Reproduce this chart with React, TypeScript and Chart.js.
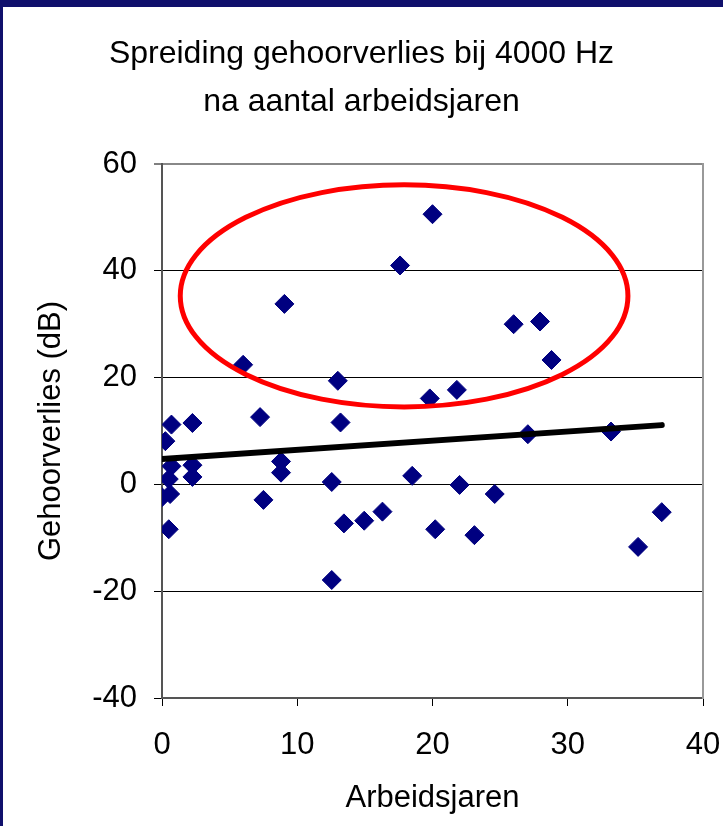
import React, { useEffect, useRef } from "react";
import { Chart, registerables } from "chart.js";

Chart.register(...registerables);

const titleLines = ["Spreiding gehoorverlies bij 4000 Hz", "na aantal arbeidsjaren"];
const xAxisTitle = "Arbeidsjaren";
const yAxisTitle = "Gehoorverlies (dB)";

// x: working years, y: hearing loss (dB) at 4000 Hz
const workYears = [
  0.0, 0.6, 0.5, 0.25, 0.7, 0.5, 0.7, 2.25, 2.25, 2.25,
  6.0, 7.25, 7.5, 9.05, 8.8, 8.8, 12.55, 12.55, 13.0, 13.2,
  13.45, 14.95, 16.3, 17.6, 18.5, 20.0, 19.8, 20.2, 21.8, 22.0,
  23.1, 24.6, 26.0, 27.05, 27.95, 28.8, 33.2, 35.2, 36.95,
];
const hearingLoss = [
  -2.4, -1.8, -8.4, 8.1, 11.2, 1.0, 3.4, 11.5, 3.6, 1.4,
  22.4, 12.6, -2.9, 33.8, 4.3, 2.2, 0.45, -17.9, 19.4, 11.6,
  -7.3, -6.8, -5.1, 41.0, 1.6, 50.6, 16.1, -8.4, 17.7, -0.1,
  -9.5, -1.8, 30.0, 9.4, 30.5, 23.3, 9.9, -11.7, -5.2,
];

// linear trend line end points
const trendYears = [0, 36.95];
const trendLoss = [4.75, 11.1];

// highlight ellipse (data units): centre and radii
const ellipseCenter = [17.9, 35.3];
const ellipseRadii = [16.55, 20.8];

const xMin = 0;
const xMax = 40;
const xStep = 10;
const yMin = -40;
const yMax = 60;
const yStep = 20;

const FONT = "'Liberation Sans', Arial, Helvetica, sans-serif";

const framePlugin = {
  id: "frame",
  beforeDraw(chart: any) {
    const { ctx, width, height } = chart;
    ctx.save();
    ctx.fillStyle = "#ffffff";
    ctx.fillRect(0, 0, width, height);
    ctx.fillStyle = "#10106c";
    ctx.fillRect(0, 0, width, 7);
    ctx.fillRect(0, 0, 3, height);
    ctx.restore();
  },
};

const ellipsePlugin = {
  id: "highlightEllipse",
  afterDatasetsDraw(chart: any) {
    const { ctx, scales } = chart;
    const xs = scales.x;
    const ys = scales.y;
    const cx = xs.getPixelForValue(ellipseCenter[0]);
    const cy = ys.getPixelForValue(ellipseCenter[1]);
    const rx = Math.abs(xs.getPixelForValue(ellipseCenter[0] + ellipseRadii[0]) - cx);
    const ry = Math.abs(ys.getPixelForValue(ellipseCenter[1] + ellipseRadii[1]) - cy);
    ctx.save();
    ctx.beginPath();
    ctx.ellipse(cx, cy, rx, ry, 0, 0, Math.PI * 2);
    ctx.strokeStyle = "#ff0000";
    ctx.lineWidth = 5;
    ctx.stroke();
    ctx.restore();
  },
};

function zeroPad(scale: any) {
  scale.paddingLeft = 0;
  scale.paddingRight = 0;
  scale.paddingTop = 0;
  scale.paddingBottom = 0;
}

export default function App() {
  const ref = useRef<HTMLCanvasElement>(null);

  useEffect(() => {
    if (!ref.current) return;
    const points = workYears.map((x, i) => ({ x, y: hearingLoss[i] }));
    const trend = trendYears.map((x, i) => ({ x, y: trendLoss[i] }));
    const chart = new Chart(ref.current, {
      type: "scatter",
      data: {
        datasets: [
          {
            label: "Trend",
            data: trend,
            showLine: true,
            borderColor: "#000000",
            borderWidth: 6,
            borderCapStyle: "round",
            pointRadius: 0,
            pointHoverRadius: 0,
            fill: false,
          } as any,
          {
            label: "Gehoorverlies",
            data: points,
            pointStyle: "rectRot",
            pointRadius: 9.5,
            pointHoverRadius: 9.5,
            backgroundColor: "#000080",
            borderColor: "#000080",
            borderWidth: 1,
          } as any,
        ],
      },
      options: {
        responsive: false,
        animation: false,
        devicePixelRatio: 1,
        events: [],
        layout: { padding: 0 },
        plugins: {
          legend: { display: false },
          tooltip: { enabled: false },
          title: {
            display: true,
            text: titleLines,
            color: "#000000",
            font: { family: FONT, size: 32, weight: "normal", lineHeight: 48 / 32 },
            padding: { top: 30, bottom: 38 },
          },
        },
        scales: {
          x: {
            type: "linear",
            position: "bottom",
            min: xMin,
            max: xMax,
            ticks: {
              stepSize: xStep,
              color: "#000000",
              font: { family: FONT, size: 31 },
              padding: 21,
              maxRotation: 0,
            },
            grid: {
              drawOnChartArea: false,
              drawTicks: true,
              tickLength: 8,
              tickColor: "#000000",
              tickWidth: 1,
            },
            border: { display: true, color: "#555555", width: 2 },
            title: {
              display: true,
              text: xAxisTitle,
              color: "#000000",
              font: { family: FONT, size: 31 },
              padding: { top: 0, bottom: 9 },
            },
            afterFit(scale: any) {
              scale.height = 128;
              zeroPad(scale);
            },
          },
          y: {
            type: "linear",
            position: "left",
            min: yMin,
            max: yMax,
            ticks: {
              stepSize: yStep,
              color: "#000000",
              font: { family: FONT, size: 31 },
              padding: 17,
            },
            grid: {
              color: (c: any) => (c.tick && c.tick.value === yMax ? "#888888" : "#000000"),
              lineWidth: (c: any) => (c.tick && c.tick.value === yMax ? 2 : 1),
              drawTicks: true,
              tickLength: 8,
              tickColor: "#000000",
              tickWidth: 1,
            },
            border: { display: true, color: "#555555", width: 2 },
            title: {
              display: true,
              text: yAxisTitle,
              color: "#000000",
              font: { family: FONT, size: 31 },
              padding: { top: 33, bottom: 0 },
            },
            afterFit(scale: any) {
              scale.width = 162;
              zeroPad(scale);
            },
          },
          yRight: {
            type: "linear",
            position: "right",
            display: true,
            min: 0,
            max: 1,
            ticks: { display: false },
            grid: { drawOnChartArea: false, drawTicks: false },
            border: { display: true, color: "#999999", width: 2 },
            afterFit(scale: any) {
              scale.width = 20;
              zeroPad(scale);
            },
          },
        },
      } as any,
      plugins: [framePlugin, ellipsePlugin],
    });
    return () => chart.destroy();
  }, []);

  return (
    <div
      style={{
        position: "fixed",
        left: 0,
        top: 0,
        width: 723,
        height: 826,
        background: "#ffffff",
        overflow: "hidden",
      }}
    >
      <canvas ref={ref} width={723} height={826} style={{ display: "block", width: 723, height: 826 }} />
    </div>
  );
}
